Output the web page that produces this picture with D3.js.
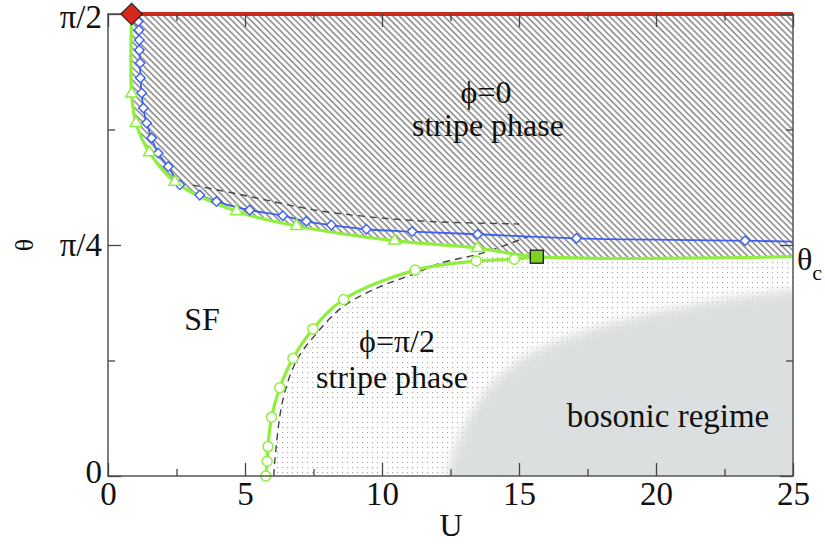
<!DOCTYPE html>
<html>
<head>
<meta charset="utf-8">
<script src="https://cdn.jsdelivr.net/npm/d3@7"></script>
<style>
  body { margin: 0; background: #fff; }
  svg text { font-family: "Liberation Serif", "Times New Roman", serif; fill: #111; }
</style>
</head>
<body>
<svg id="chart" width="825" height="544"></svg>
<script>
const PI = Math.PI;

// axis ticks
const xMajor = [0, 5, 10, 15, 20, 25];
const xMinor = [2.5, 7.5, 12.5, 17.5, 22.5];
const yMajor = [0, PI / 4, PI / 2];
const yLabels = ["0", "π/4", "π/2"];
const yMinor = [PI / 8, 3 * PI / 8];

// blue line (diamonds)
const blueU = [1.10, 1.13, 1.14, 1.14, 1.17, 1.18, 1.23, 1.29, 1.41, 1.59, 1.83, 2.20, 2.62, 3.35, 3.96, 5.17, 6.38, 7.24, 8.15, 9.43, 11.10, 13.49, 17.10, 23.25, 25.0];
const blueTheta = [1.545, 1.516, 1.482, 1.448, 1.404, 1.353, 1.302, 1.251, 1.200, 1.149, 1.098, 1.052, 0.990, 0.955, 0.933, 0.904, 0.885, 0.866, 0.853, 0.839, 0.831, 0.822, 0.808, 0.800, 0.797];

// upper green line (triangles), ends on the theta_c line
const greenU = [0.86, 0.86, 1.02, 1.51, 2.44, 4.69, 6.88, 10.46, 13.49, 15.65, 25.0];
const greenTheta = [PI / 2, 1.30, 1.20, 1.10, 1.00, 0.90, 0.85, 0.80, 0.775, 0.7456, 0.7456];

// lower green line (circles)
const lowU = [5.76, 5.81, 5.84, 5.97, 6.27, 6.75, 7.48, 8.60, 11.21, 13.44, 14.83, 15.65];
const lowTheta = [0, 0.05, 0.10, 0.20, 0.30, 0.40, 0.50, 0.60, 0.70, 0.731, 0.737, 0.7456];

// dashed curves
const dashU = [6.05, 6.09, 6.38, 6.89, 7.62, 8.56, 9.91, 11.26, 12.10, 13.67, 15.38];
const dashTheta = [0, 0.054, 0.258, 0.394, 0.486, 0.575, 0.643, 0.690, 0.723, 0.758, 0.816];
const dashUpU = [3.1, 4.56, 5.78, 7.5, 9.44, 11.84, 15.01];
const dashUpTheta = [0.989, 0.962, 0.938, 0.905, 0.882, 0.865, 0.857];

// bosonic regime border
const bosonU = [12.34, 12.94, 13.80, 15.01, 16.84, 19.27, 21.68, 23.51, 25.0];
const bosonTheta = [0, 0.156, 0.292, 0.394, 0.474, 0.542, 0.588, 0.615, 0.632];

// special points
const redPoint = [0.86, PI / 2];
const thetaC = 0.7456;
const squarePoint = [15.65, thetaC];

const svg = d3.select("#chart");
const pLeft = 108, pRight = 793, pTop = 14, pBottom = 476;

const x = d3.scaleLinear().domain([0, 25]).range([pLeft, pRight]);
const y = d3.scaleLinear().domain([0, PI / 2]).range([pBottom, pTop]);

const pts = (us, ts) => us.map((u, i) => [x(u), y(ts[i])]);
const smooth = d3.line().curve(d3.curveCatmullRom.alpha(0.5));

const defs = svg.append("defs");

defs.append("clipPath").attr("id", "plot")
  .append("rect").attr("x", pLeft).attr("y", pTop).attr("width", pRight - pLeft).attr("height", pBottom - pTop);

const hatch = defs.append("pattern").attr("id", "hatch")
  .attr("patternUnits", "userSpaceOnUse").attr("width", 4.5).attr("height", 10)
  .attr("patternTransform", "rotate(-45)");
hatch.append("line").attr("x1", 1).attr("y1", 0).attr("x2", 1).attr("y2", 10)
  .attr("stroke", "#7d7d7d").attr("stroke-width", 1.4);

const dots = defs.append("pattern").attr("id", "dots")
  .attr("patternUnits", "userSpaceOnUse").attr("width", 5).attr("height", 5);
dots.append("rect").attr("x", 2).attr("y", 2).attr("width", 1.1).attr("height", 1.1).attr("fill", "#a5a5a5");

defs.append("filter").attr("id", "soft").attr("x", "-20%").attr("y", "-20%").attr("width", "140%").attr("height", "140%")
  .append("feGaussianBlur").attr("stdDeviation", 6);

// region right of the lower dashed curve
const dashPts = pts(dashU, dashTheta);
const lastDash = dashPts[dashPts.length - 1];
defs.append("clipPath").attr("id", "rightDash")
  .append("path")
  .attr("d", smooth(dashPts) + `L${pRight + 5},${lastDash[1]}L${pRight + 5},${pBottom + 5}L${dashPts[0][0]},${pBottom + 5}Z`);
defs.append("clipPath").attr("id", "belowTc")
  .append("rect").attr("x", pLeft).attr("y", y(thetaC)).attr("width", pRight - pLeft).attr("height", pBottom - y(thetaC));

const plot = svg.append("g").attr("clip-path", "url(#plot)");

// dotted phi = pi/2 region
plot.append("g").attr("clip-path", "url(#belowTc)")
  .append("rect").attr("clip-path", "url(#rightDash)")
  .attr("x", pLeft).attr("y", pTop).attr("width", pRight - pLeft).attr("height", pBottom - pTop)
  .attr("fill", "url(#dots)");

// bosonic regime, soft edge
const bPts = pts(bosonU, bosonTheta);
const bLast = bPts[bPts.length - 1];
plot.append("path")
  .attr("d", smooth(bPts) + `L${bLast[0] + 20},${bLast[1]}L${bLast[0] + 20},${pBottom + 20}L${bPts[0][0]},${pBottom + 20}Z`)
  .attr("fill", "#dcdfdf").attr("filter", "url(#soft)");

// hatched phi = 0 region
const gPts = pts(greenU, greenTheta);
plot.append("path")
  .attr("d", smooth(gPts) + `L${x(25)},${y(PI / 2)}Z`)
  .attr("fill", "url(#hatch)");

// dashed curves
plot.append("path").attr("d", smooth(dashPts))
  .attr("fill", "none").attr("stroke", "#444").attr("stroke-width", 1.4).attr("stroke-dasharray", "7,5");
plot.append("path").attr("d", smooth(pts(dashUpU, dashUpTheta)))
  .attr("fill", "none").attr("stroke", "#444").attr("stroke-width", 1.4).attr("stroke-dasharray", "7,5");

const green = "#8fee3e", blue = "#3f5ff0";

// lower green line
const lPts = pts(lowU, lowTheta);
plot.append("path").attr("d", smooth(lPts))
  .attr("fill", "none").attr("stroke", green).attr("stroke-width", 3.2);

// blue line
const bluePts = pts(blueU, blueTheta);
plot.append("path").attr("d", smooth(bluePts))
  .attr("fill", "none").attr("stroke", blue).attr("stroke-width", 1.8);

// upper green line
plot.append("path").attr("d", smooth(gPts))
  .attr("fill", "none").attr("stroke", green).attr("stroke-width", 3.2);

// markers
const diamond = d3.symbol().type(d3.symbolSquare).size(46)();
svg.append("g").selectAll("path").data(bluePts.slice(0, -1)).join("path")
  .attr("d", diamond).attr("transform", d => `translate(${d[0]},${d[1]}) rotate(45)`)
  .attr("fill", "#fff").attr("stroke", blue).attr("stroke-width", 1.4);

const tri = d3.symbol().type(d3.symbolTriangle).size(60)();
svg.append("g").selectAll("path").data(gPts.slice(1, -2)).join("path")
  .attr("d", tri).attr("transform", d => `translate(${d[0]},${d[1]})`)
  .attr("fill", "#fff").attr("stroke", green).attr("stroke-width", 1.5);

svg.append("g").selectAll("circle").data(lPts.slice(0, -1)).join("circle")
  .attr("cx", d => d[0]).attr("cy", d => d[1]).attr("r", 5)
  .attr("fill", "#fff").attr("stroke", green).attr("stroke-width", 1.5);

// frame
svg.append("rect").attr("x", pLeft).attr("y", pTop).attr("width", pRight - pLeft).attr("height", pBottom - pTop)
  .attr("fill", "none").attr("stroke", "#555").attr("stroke-width", 1.5);

// red line on top edge + red diamond
svg.append("line").attr("x1", x(redPoint[0])).attr("x2", x(25)).attr("y1", y(PI / 2)).attr("y2", y(PI / 2))
  .attr("stroke", "#c82a1e").attr("stroke-width", 4);
svg.append("path").attr("d", d3.symbol().type(d3.symbolSquare).size(230)())
  .attr("transform", `translate(${x(redPoint[0])},${y(redPoint[1])}) rotate(45)`)
  .attr("fill", "#d8261a").attr("stroke", "#222").attr("stroke-width", 1.2);

// square where the branches meet
svg.append("rect").attr("x", x(squarePoint[0]) - 6.5).attr("y", y(squarePoint[1]) - 6.5)
  .attr("width", 13).attr("height", 13)
  .attr("fill", "#7ed321").attr("stroke", "#222").attr("stroke-width", 1.4);

// axes (ticks point inward)
function styleAxis(g) {
  g.select(".domain").remove();
  g.selectAll("line").attr("stroke", "#444").attr("stroke-width", 1.3);
  g.selectAll("text").style("font-size", "33px").attr("fill", "#111")
    .style("font-family", '"Liberation Serif", "Times New Roman", serif');
}
svg.append("g").attr("transform", `translate(0,${pBottom})`)
  .call(d3.axisBottom(x).tickValues(xMajor).tickSize(-13).tickPadding(6).tickFormat(d3.format("d"))).call(styleAxis);
svg.append("g").attr("transform", `translate(0,${pBottom})`)
  .call(d3.axisBottom(x).tickValues(xMinor).tickSize(-7).tickFormat("")).call(styleAxis);
svg.append("g").attr("transform", `translate(0,${pTop})`)
  .call(d3.axisTop(x).tickValues(xMajor).tickSize(-13).tickFormat("")).call(styleAxis);
svg.append("g").attr("transform", `translate(0,${pTop})`)
  .call(d3.axisTop(x).tickValues(xMinor).tickSize(-7).tickFormat("")).call(styleAxis);
const yAx = svg.append("g").attr("transform", `translate(${pLeft},0)`)
  .call(d3.axisLeft(y).tickValues(yMajor).tickSize(-13).tickPadding(6).tickFormat((d, i) => yLabels[i])).call(styleAxis);
yAx.selectAll("text").filter(d => d === PI / 2).attr("dy", "0.42em");
yAx.selectAll("text").filter(d => d === 0).attr("dy", "0.2em");
svg.append("g").attr("transform", `translate(${pLeft},0)`)
  .call(d3.axisLeft(y).tickValues(yMinor).tickSize(-7).tickFormat("")).call(styleAxis);
svg.append("g").attr("transform", `translate(${pRight},0)`)
  .call(d3.axisRight(y).tickValues(yMajor).tickSize(-13).tickFormat("")).call(styleAxis);
svg.append("g").attr("transform", `translate(${pRight},0)`)
  .call(d3.axisRight(y).tickValues(yMinor).tickSize(-7).tickFormat("")).call(styleAxis);

// axis titles
svg.append("text").attr("x", 451).attr("y", 536).attr("text-anchor", "middle").style("font-size", "32px").text("U");
svg.append("text").attr("transform", "translate(24,245) rotate(-90)").attr("text-anchor", "middle")
  .attr("dy", "0.35em").style("font-size", "26px").text("θ");

// region labels
const label = (tx, ty, s, size) => svg.append("text").attr("x", tx).attr("y", ty)
  .attr("text-anchor", "middle").style("font-size", size + "px").text(s);
label(486, 103, "ϕ=0", 32);
label(488, 136, "stripe phase", 32);
label(397, 352, "ϕ=π/2", 32);
label(392, 388, "stripe phase", 32);
label(202, 330, "SF", 32);
label(668, 427, "bosonic regime", 33);

const tc = svg.append("text").attr("x", 797).attr("y", 270).style("font-size", "32px");
tc.append("tspan").text("θ");
tc.append("tspan").attr("dy", 10).style("font-size", "22px").text("c");
</script>
</body>
</html>
